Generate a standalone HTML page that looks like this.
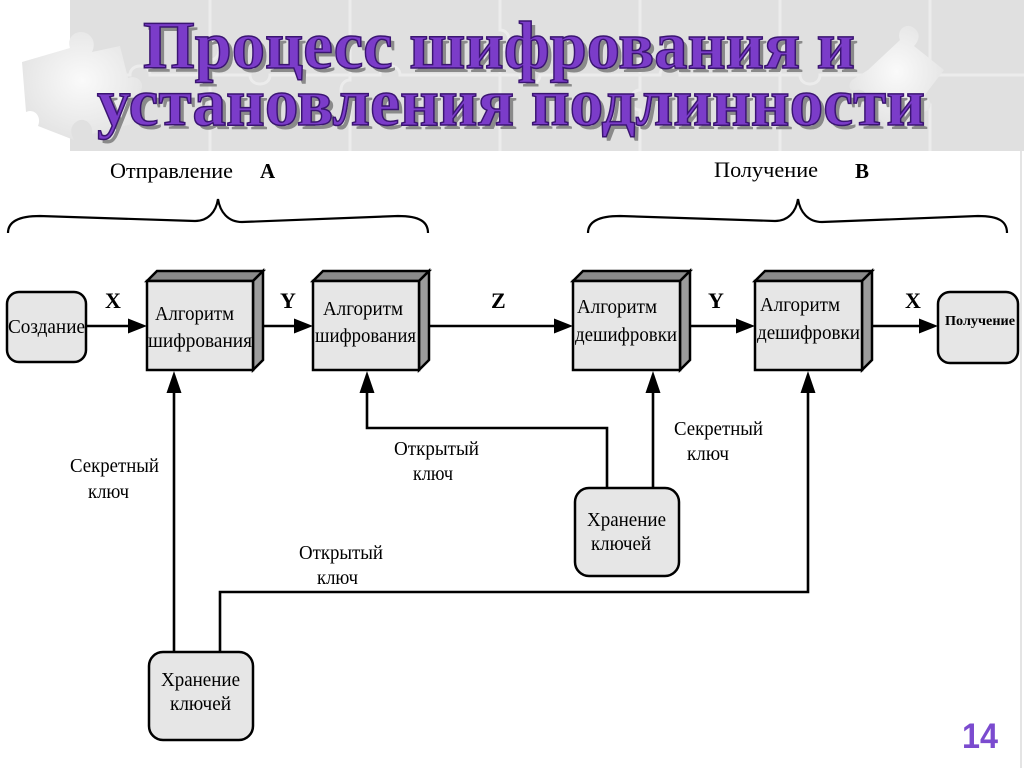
<!DOCTYPE html>
<html>
<head>
<meta charset="utf-8">
<style>
  html,body{margin:0;padding:0;background:#fff;}
  svg{display:block;}
</style>
</head>
<body>
<svg width="1024" height="768" viewBox="0 0 1024 768" xmlns="http://www.w3.org/2000/svg">
  <defs>
    <radialGradient id="pz" cx="50%" cy="45%" r="60%">
      <stop offset="0" stop-color="#fafafa"/>
      <stop offset="1" stop-color="#e2e2e2"/>
    </radialGradient>
  </defs>
  <rect width="1024" height="768" fill="#ffffff"/>

  <!-- title background (puzzle) -->
  <rect x="70" y="0" width="954" height="151" fill="#e0e0e0"/>
  <g fill="none" stroke="#ececec" stroke-width="3">
    <path d="M70,75 H130 c0,-12 20,-12 20,0 H250 c0,12 20,12 20,0 H380 c0,-12 20,-12 20,0 H520 c0,12 20,12 20,0 H660 c0,-12 20,-12 20,0 H800 c0,12 20,12 20,0 H1024"/>
    <path d="M210,0 V40 c12,0 12,20 0,20 V151"/>
    <path d="M350,0 V80 c-12,0 -12,20 0,20 V151"/>
    <path d="M500,0 V30 c12,0 12,20 0,20 V151"/>
    <path d="M640,0 V90 c-12,0 -12,20 0,20 V151"/>
    <path d="M780,0 V40 c12,0 12,20 0,20 V151"/>
    <path d="M930,0 V85 c-12,0 -12,20 0,20 V151"/>
  </g>
  <!-- left loose puzzle piece -->
  <path d="M22,62 L70,48 C66,36 78,28 88,34 C96,40 94,48 92,52 L120,46 L128,78 C138,74 146,84 140,92 C134,100 126,98 124,96 L132,124 L92,134 C94,124 84,116 76,122 C68,128 72,136 74,140 L38,126 C42,116 34,108 26,112 Z" fill="url(#pz)"/>
  <!-- right loose puzzle piece -->
  <path d="M868,70 L900,40 C896,30 906,22 914,28 C922,34 918,42 914,46 L944,70 L924,96 C934,100 932,112 922,112 C914,112 912,106 912,102 L890,128 L862,104 C870,98 866,88 856,90 C848,92 848,84 852,80 Z" fill="url(#pz)"/>
  <rect x="1020" y="151" width="2" height="617" fill="#e4e4e4"/>

  <!-- title -->
  <g font-family="'Liberation Serif', 'DejaVu Serif', serif" font-weight="bold" font-size="68">
    <text x="147" y="72" textLength="712" lengthAdjust="spacingAndGlyphs" fill="#8a8a8a">Процесс шифрования и</text>
    <text x="143" y="68" textLength="712" lengthAdjust="spacingAndGlyphs" fill="#7b3cc9" stroke="#3b1572" stroke-width="1.5">Процесс шифрования и</text>
    <text x="101" y="129" textLength="828" lengthAdjust="spacingAndGlyphs" fill="#8a8a8a">установления подлинности</text>
    <text x="97" y="125" textLength="828" lengthAdjust="spacingAndGlyphs" fill="#7b3cc9" stroke="#3b1572" stroke-width="1.5">установления подлинности</text>
  </g>

  <!-- braces -->
  <g fill="none" stroke="#000" stroke-width="2.2">
    <path d="M8,233 C8,222 18,216 40,216 L195,221 C208,221 216,212 218,199 C220,212 228,222 242,222 L398,216 C420,216 428,222 428,233"/>
    <path d="M588,233 C588,222 598,216 620,216 L775,221 C788,221 796,212 798,199 C800,212 808,222 822,222 L978,216 C1000,216 1007,222 1007,233"/>
  </g>
  <g font-family="'Liberation Serif', 'DejaVu Serif', serif" fill="#000">
    <text x="110" y="178" font-size="22" textLength="123" lengthAdjust="spacingAndGlyphs">Отправление</text>
    <text x="260" y="178" font-size="21" font-weight="bold">A</text>
    <text x="714" y="177" font-size="22" textLength="104" lengthAdjust="spacingAndGlyphs">Получение</text>
    <text x="855" y="178" font-size="21" font-weight="bold">B</text>
  </g>

  <!-- connectors -->
  <g stroke="#000" stroke-width="2.6" fill="none">
    <line x1="86" y1="326" x2="132" y2="326"/>
    <line x1="263" y1="326" x2="298" y2="326"/>
    <line x1="429" y1="326" x2="558" y2="326"/>
    <line x1="690" y1="326" x2="740" y2="326"/>
    <line x1="872" y1="326" x2="923" y2="326"/>
    <line x1="174" y1="388" x2="174" y2="652"/>
    <polyline points="367,388 367,428 607,428 607,488"/>
    <line x1="653" y1="388" x2="653" y2="488"/>
    <polyline points="808,388 808,592 220,592 220,652"/>
  </g>
  <g fill="#000">
    <polygon points="128,318.5 147,326 128,333.5"/>
    <polygon points="294,318.5 313,326 294,333.5"/>
    <polygon points="554,318.5 573,326 554,333.5"/>
    <polygon points="736,318.5 755,326 736,333.5"/>
    <polygon points="919,318.5 938,326 919,333.5"/>
    <polygon points="166.5,393 174,371 181.5,393"/>
    <polygon points="359.5,393 367,371 374.5,393"/>
    <polygon points="645.5,393 653,371 660.5,393"/>
    <polygon points="800.5,393 808,371 815.5,393"/>
  </g>

  <!-- 3D boxes -->
  <g stroke="#000" stroke-width="2.5" stroke-linejoin="miter">
    <polygon points="147,281 157,271 263,271 253,281" fill="#8a8a8a"/>
    <polygon points="253,281 263,271 263,360 253,370" fill="#9c9c9c"/>
    <rect x="147" y="281" width="106" height="89" fill="#e6e6e6"/>
    <polygon points="313,281 323,271 429,271 419,281" fill="#8a8a8a"/>
    <polygon points="419,281 429,271 429,360 419,370" fill="#9c9c9c"/>
    <rect x="313" y="281" width="106" height="89" fill="#e6e6e6"/>
    <polygon points="573,281 583,271 690,271 680,281" fill="#8a8a8a"/>
    <polygon points="680,281 690,271 690,360 680,370" fill="#9c9c9c"/>
    <rect x="573" y="281" width="107" height="89" fill="#e6e6e6"/>
    <polygon points="755,281 765,271 872,271 862,281" fill="#8a8a8a"/>
    <polygon points="862,281 872,271 872,360 862,370" fill="#9c9c9c"/>
    <rect x="755" y="281" width="107" height="89" fill="#e6e6e6"/>
  </g>

  <!-- rounded boxes -->
  <g stroke="#000" stroke-width="2.5" fill="#e6e6e6">
    <rect x="7" y="292" width="79" height="70" rx="12" ry="12"/>
    <rect x="938" y="292" width="80" height="71" rx="12" ry="12"/>
    <rect x="149" y="652" width="104" height="88" rx="14" ry="14"/>
    <rect x="575" y="488" width="104" height="88" rx="14" ry="14"/>
  </g>

  <!-- text labels -->
  <g font-family="'Liberation Serif', 'DejaVu Serif', serif" fill="#000" font-size="20">
    <text x="8" y="333" textLength="77" lengthAdjust="spacingAndGlyphs">Создание</text>
    <text x="155" y="320" textLength="79" lengthAdjust="spacingAndGlyphs">Алгоритм</text>
    <text x="148" y="347" textLength="104" lengthAdjust="spacingAndGlyphs">шифрования</text>
    <text x="323" y="315" textLength="80" lengthAdjust="spacingAndGlyphs">Алгоритм</text>
    <text x="315" y="342" textLength="101" lengthAdjust="spacingAndGlyphs">шифрования</text>
    <text x="577" y="313" textLength="80" lengthAdjust="spacingAndGlyphs">Алгоритм</text>
    <text x="575" y="341" textLength="102" lengthAdjust="spacingAndGlyphs">дешифровки</text>
    <text x="760" y="311" textLength="80" lengthAdjust="spacingAndGlyphs">Алгоритм</text>
    <text x="757" y="339" textLength="103" lengthAdjust="spacingAndGlyphs">дешифровки</text>
    <text x="945" y="325" font-size="14" font-weight="bold" textLength="70" lengthAdjust="spacingAndGlyphs">Получение</text>

    <text x="161" y="686" textLength="79" lengthAdjust="spacingAndGlyphs">Хранение</text>
    <text x="170" y="710" textLength="61" lengthAdjust="spacingAndGlyphs">ключей</text>
    <text x="587" y="526" textLength="79" lengthAdjust="spacingAndGlyphs">Хранение</text>
    <text x="591" y="550" textLength="60" lengthAdjust="spacingAndGlyphs">ключей</text>

    <text x="70" y="472" textLength="89" lengthAdjust="spacingAndGlyphs">Секретный</text>
    <text x="88" y="498" textLength="41" lengthAdjust="spacingAndGlyphs">ключ</text>
    <text x="394" y="455" textLength="85" lengthAdjust="spacingAndGlyphs">Открытый</text>
    <text x="413" y="480" textLength="40" lengthAdjust="spacingAndGlyphs">ключ</text>
    <text x="299" y="559" textLength="84" lengthAdjust="spacingAndGlyphs">Открытый</text>
    <text x="317" y="584" textLength="41" lengthAdjust="spacingAndGlyphs">ключ</text>
    <text x="674" y="435" textLength="89" lengthAdjust="spacingAndGlyphs">Секретный</text>
    <text x="687" y="460" textLength="42" lengthAdjust="spacingAndGlyphs">ключ</text>

    <g font-weight="bold" font-size="22">
      <text x="105" y="308">X</text>
      <text x="280" y="308">Y</text>
      <text x="491" y="308">Z</text>
      <text x="708" y="308">Y</text>
      <text x="905" y="308">X</text>
    </g>
  </g>

  <!-- page number -->
  <text x="962" y="748" font-family="'Liberation Sans', 'DejaVu Sans', sans-serif" font-weight="bold" font-size="35" fill="#7b4bcf" textLength="36" lengthAdjust="spacingAndGlyphs">14</text>
</svg>
</body>
</html>
